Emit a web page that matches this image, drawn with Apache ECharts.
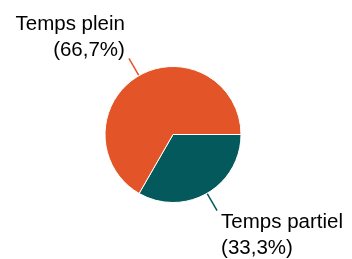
<!DOCTYPE html>
<html>
<head>
<meta charset="utf-8">
<script src="https://cdn.jsdelivr.net/npm/echarts@6/dist/echarts.min.js"></script>
<style>
  html, body { margin: 0; padding: 0; background: #fff; }
  #main { width: 352px; height: 259px; }
</style>
</head>
<body>
<div id="main"></div>
<script>
// slice data (first item starts at 3 o'clock, clockwise)
const categories = ['Temps partiel', 'Temps plein']
const values = [33.3, 66.7]
const colors = ['#03595c', '#e35428']

const chart = echarts.init(document.getElementById('main'))

const option = {
  animation: false,
  series: [
    {
      type: 'pie',
      center: [173, 134.5],
      radius: 68,
      startAngle: 0,
      clockwise: true,
      avoidLabelOverlap: false,
      itemStyle: {
        borderColor: '#fff',
        borderWidth: 1
      },
      label: {
        show: true,
        position: 'outside',
        color: '#000',
        fontFamily: 'Liberation Sans, Arial, sans-serif',
        fontSize: 20.5,
        lineHeight: 26,
        distanceToLabelLine: 4,
        formatter: (p) => p.name + '\n(' + p.percent.toFixed(1).replace('.', ',') + '%)'
      },
      labelLine: {
        show: true,
        length: 20,
        length2: 0,
        lineStyle: { width: 1.5 }
      },
      // text sits below the line end on the right, above it on the left
      labelLayout: (p) => ({ dy: p.dataIndex === 0 ? 25 : -21 }),
      emphasis: { disabled: true },
      data: categories.map((name, i) => ({
        name: name,
        value: values[i],
        itemStyle: { color: colors[i] },
        label: { align: i === 0 ? 'left' : 'right' }
      }))
    }
  ]
}

chart.setOption(option)
</script>
</body>
</html>
